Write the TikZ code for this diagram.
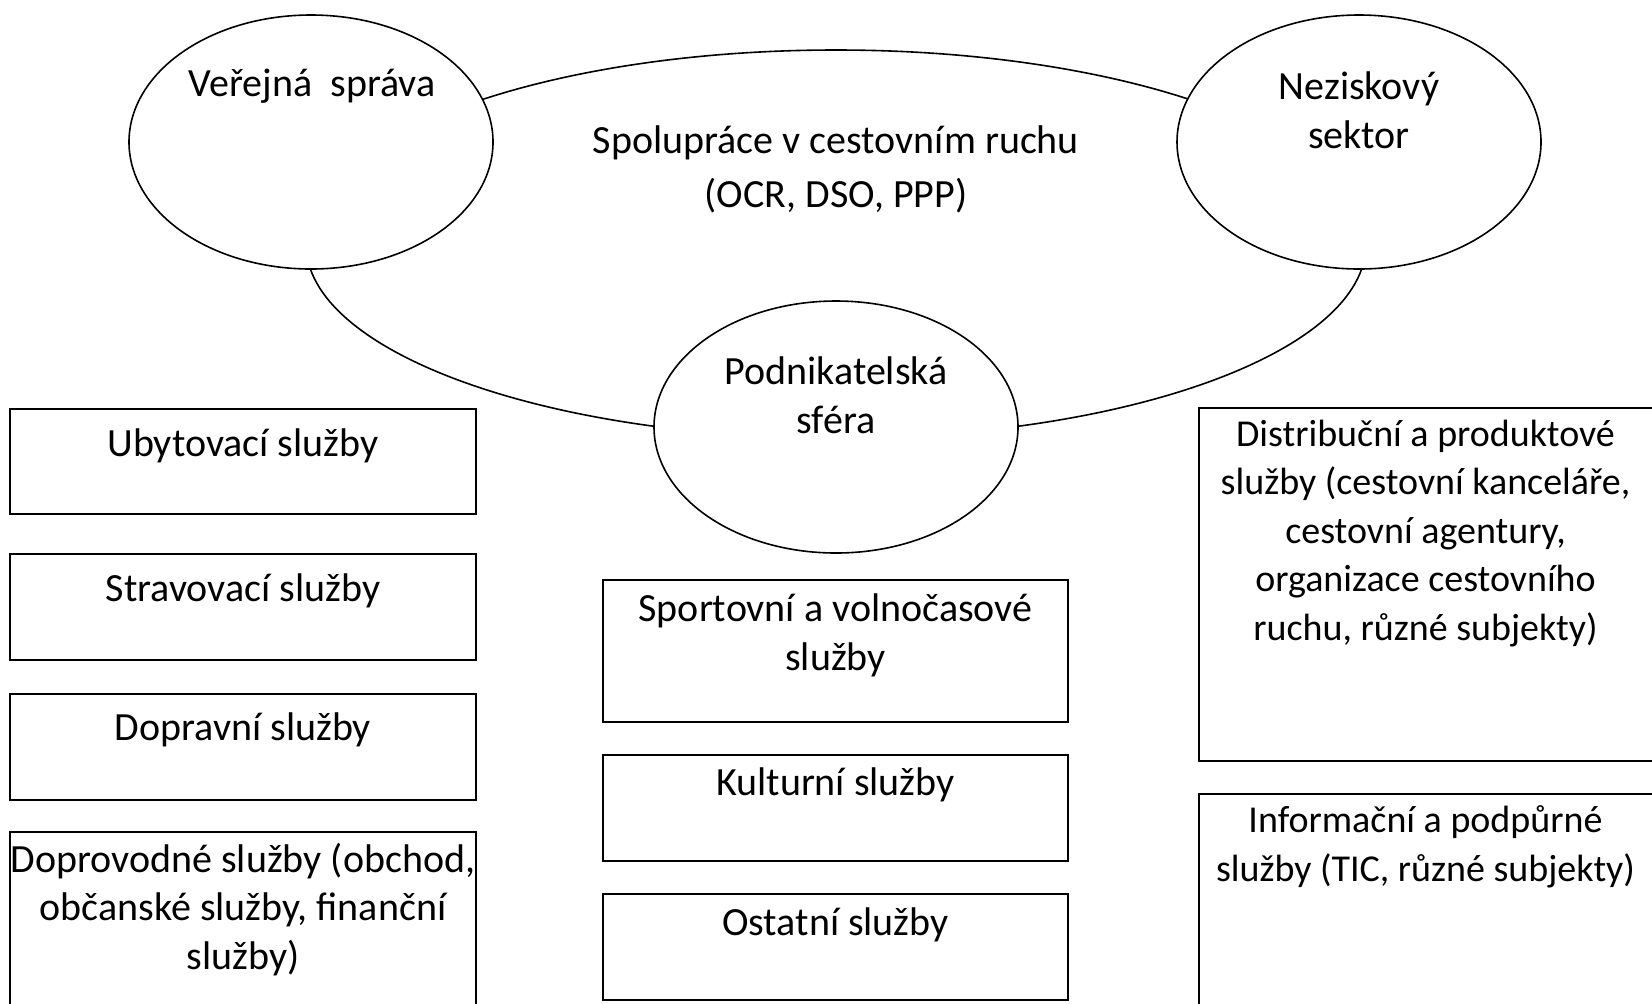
\documentclass[tikz,border=0pt]{standalone}
\usepackage{fontspec}
\setmainfont{Carlito}
\usetikzlibrary{shapes.geometric,positioning}
\tikzset{
  sector/.style={ellipse, draw=black, line width=0.8pt, fill=white, minimum width=182pt, minimum height=127pt, inner sep=0pt},
  coop/.style={ellipse, draw=black, line width=0.8pt, minimum width=530pt, minimum height=194pt, inner sep=0pt},
  box/.style={rectangle, draw=black, line width=1pt, minimum width=232.75pt, minimum height=53pt, inner sep=0pt},
  txt/.style={align=center, inner sep=0pt, font=\fontsize{20}{24.25}\selectfont},
  smalltxt/.style={txt, font=\fontsize{19}{24.25}\selectfont}
}

\begin{document}
\begin{tikzpicture}[x=0.5pt, y=-0.5pt]
  \useasboundingbox (0,0) rectangle (1652,1003);

  \node[coop] (coop) at (836,244) {};
  \node[sector] (VS) at (311,142) {};
  \node[sector] (NS) at (1359,142) {};
  \node[sector, minimum height=126pt] (PS) at (836,427) {};
  \node[txt] (VStext) at (312,86) {Veřejná\ \ správa};
  \node[txt] (NStext) at (1359,110) {Neziskový\\sektor};
  \node[txt] (PStext) at (836,395) {Podnikatelská\\sféra};
  \node[txt, font=\fontsize{20}{27}\selectfont] (cooptext) at (836,169) {Spolupráce v cestovním ruchu\\(OCR, DSO, PPP)};

  \node[box, minimum height=52.5pt] (L1) at (243,461.5) {};
  \node[box] (L2) [below=19pt of L1] {};
  \node[box] (L3) [below=16pt of L2] {};
  \node[box, minimum height=100pt] (L4) [below=15pt of L3] {};
  \node[box, minimum height=71pt] (M1) at (835.5,651) {};
  \node[box] (M2) [below=15.5pt of M1] {};
  \node[box] (M3) [below=15.5pt of M2] {};
  \node[box, minimum height=176.5pt] (R1) at (1431.5,584.5) {};
  \node[box, minimum height=115pt] (R2) [below=15.5pt of R1] {};

  \node[txt] (L1text) [below=10.3pt of L1.north] {Ubytovací služby};
  \node[txt] (L2text) [below=10.3pt of L2.north] {Stravovací služby};
  \node[txt] (L3text) [below=9.75pt of L3.north] {Dopravní služby};
  \node[txt] (L4text) [below=5.7pt of L4.north] {Doprovodné služby (obchod,\\občanské služby, finanční\\služby)};
  \node[txt] (M1text) [below=7.35pt of M1.north] {Sportovní a volnočasové\\služby};
  \node[txt] (M2text) [below=6.8pt of M2.north] {Kulturní služby};
  \node[txt] (M3text) [below=7.35pt of M3.north] {Ostatní služby};
  \node[smalltxt, xshift=-3pt] (R1text) [below=6.3pt of R1.north] {Distribuční a produktové\\služby (cestovní kanceláře,\\cestovní agentury,\\organizace cestovního\\ruchu, různé subjekty)};
  \node[smalltxt, xshift=-3pt] (R2text) [below=6.2pt of R2.north] {Informační a podpůrné\\služby (TIC, různé subjekty)};
\end{tikzpicture}
\end{document}
